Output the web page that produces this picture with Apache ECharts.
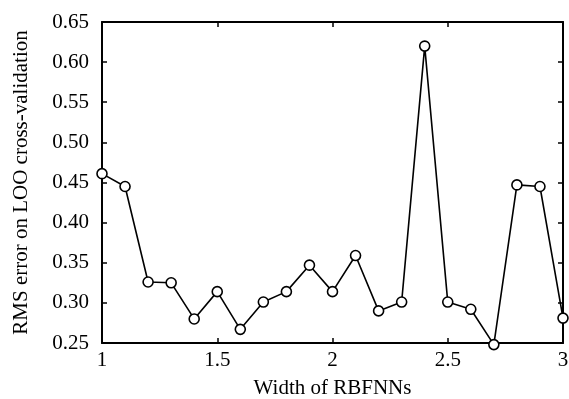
<!DOCTYPE html>
<html>
<head>
<meta charset="utf-8">
<script src="https://cdn.jsdelivr.net/npm/echarts@6/dist/echarts.min.js"></script>
<style>
  html, body { margin: 0; padding: 0; background: #fff; }
  #chart { width: 569px; height: 399px; }
</style>
</head>
<body>
<div id="chart"></div>
<script>
// width of RBFNNs and LOO RMS error
const widths = [1.0, 1.1, 1.2, 1.3, 1.4, 1.5, 1.6, 1.7, 1.8, 1.9, 2.0,
                2.1, 2.2, 2.3, 2.4, 2.5, 2.6, 2.7, 2.8, 2.9, 3.0];
const rmsError = [0.461, 0.445, 0.326, 0.325, 0.280, 0.314, 0.267, 0.301, 0.314, 0.347, 0.314,
                  0.359, 0.290, 0.301, 0.620, 0.301, 0.292, 0.248, 0.447, 0.445, 0.281];

const font = 'Liberation Serif';
const chart = echarts.init(document.getElementById('chart'));

const tickIn = { show: true, inside: true, length: 5, lineStyle: { color: '#000', width: 1.5 } };
const line = { show: true, lineStyle: { color: '#000', width: 2 } };

chart.setOption({
  animation: false,
  grid: { left: 102, right: 6, top: 22, bottom: 56, outerBoundsMode: 'none', containLabel: false },
  xAxis: [
    {
      type: 'value', min: 1, max: 3, interval: 0.5,
      name: 'Width of RBFNNs', nameLocation: 'middle', nameGap: 35,
      nameTextStyle: { fontFamily: font, fontSize: 21, color: '#000' },
      axisLine: line, axisTick: tickIn, splitLine: { show: false },
      axisLabel: { fontFamily: font, fontSize: 21, color: '#000', margin: 7 }
    },
    {
      type: 'value', min: 1, max: 3, interval: 0.5, position: 'top',
      axisLine: line, axisTick: tickIn, splitLine: { show: false },
      axisLabel: { show: false }
    }
  ],
  yAxis: [
    {
      type: 'value', min: 0.25, max: 0.65, interval: 0.05,
      name: 'RMS error on LOO cross-validation', nameLocation: 'middle', nameGap: 70,
      nameTextStyle: { fontFamily: font, fontSize: 21, color: '#000' },
      axisLine: line, axisTick: tickIn, splitLine: { show: false },
      axisLabel: {
        fontFamily: font, fontSize: 21, color: '#000', margin: 13,
        formatter: v => v.toFixed(2)
      }
    },
    {
      type: 'value', min: 0.25, max: 0.65, interval: 0.05, position: 'right',
      axisLine: line, axisTick: tickIn, splitLine: { show: false },
      axisLabel: { show: false }
    }
  ],
  series: [{
    type: 'line',
    data: widths.map((w, i) => [w, rmsError[i]]),
    clip: false,
    symbol: 'circle',
    symbolSize: 10,
    itemStyle: { color: '#fff', borderColor: '#000', borderWidth: 1.6 },
    lineStyle: { color: '#000', width: 1.6 }
  }]
});
</script>
</body>
</html>
